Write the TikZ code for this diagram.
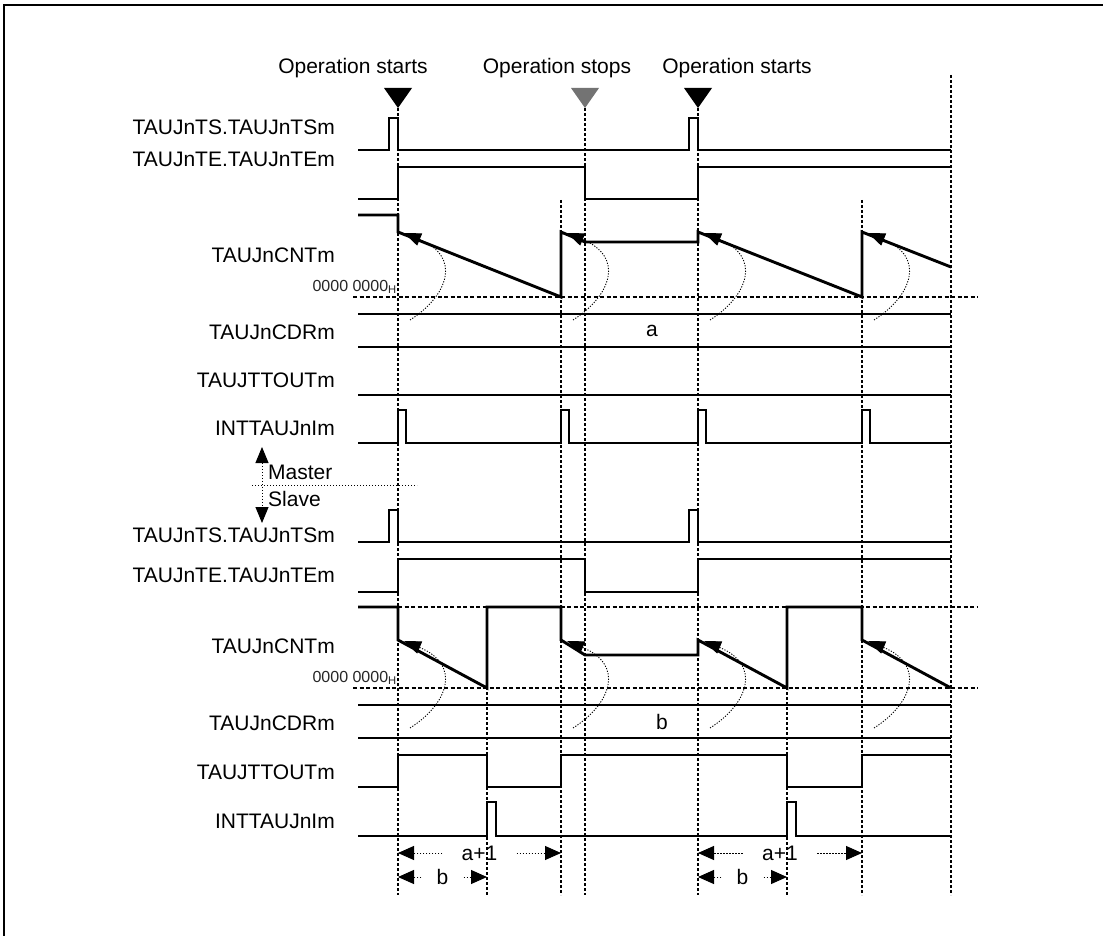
\documentclass[tikz,border=0pt]{standalone}
\usepackage{fontspec}
\setmainfont{Liberation Sans}
\usetikzlibrary{arrows.meta}
\newcommand{\labsize}{\fontsize{21}{25}\selectfont}
\tikzset{
  sigline/.style  = {line width=2.9pt},
  tmark/.style    = {line width=1.3pt,dash pattern=on 3pt off 2pt},
  hmark/.style    = {line width=1.3pt,dash pattern=on 4pt off 2.5pt},
  cntarr/.style   = {-{Triangle[length=17pt,width=13pt]},line width=0.9pt,dash pattern=on 1.2pt off 1.5pt},
  dimarr/.style   = {-{Triangle[length=16pt,width=14pt]},line width=1pt,dash pattern=on 1.5pt off 1.5pt},
  rowlabel/.style = {anchor=east,inner sep=0pt,font=\labsize},
  txt/.style      = {inner sep=0pt,font=\labsize}
}
\newcommand{\cntarc}[2]{%
  \draw[cntarr] (#1+12,#2+88) .. controls (#1+50,#2+64) and (#1+64,#2+25) .. (#1+6,#2+1);
}
\newcommand{\optri}[2]{%
  \fill[#2] (#1-14,88) -- (#1+14,88) -- (#1,108) -- cycle;
}
\begin{document}
\begin{tikzpicture}[x=1pt,y=-1pt]
  \useasboundingbox (0,0) rectangle (1103,936);
  \draw[line width=2pt] (4,936) -- (4,5) -- (1103,5);
  \coordinate (t1) at (398,0);
  \coordinate (t2) at (487,0);
  \coordinate (t3) at (561,0);
  \coordinate (t5) at (698,0);
  \coordinate (t6) at (787,0);
  \coordinate (t7) at (862,0);
  \node[txt,anchor=base] (hdA) at (353,74) {Operation starts};
  \node[txt,anchor=base] (hdB) at (557,74) {Operation stops};
  \node[txt,anchor=base] (hdC) at (737,74) {Operation starts};
  \optri{398}{black}
  \optri{585}{black!55}
  \optri{698}{black}
  \draw[tmark] (398,108) -- (398,895);
  \draw[tmark] (561,200) -- (561,895);
  \draw[tmark] (585,108) -- (585,895);
  \draw[tmark] (698,108) -- (698,895);
  \draw[tmark] (862,200) -- (862,895);
  \draw[tmark] (951,75) -- (951,895);
  \draw[tmark] (487,607) -- (487,895);
  \draw[tmark] (787,607) -- (787,895);
  \draw[hmark] (353,297) -- (978,297);
  \draw[hmark] (353,688) -- (978,688);
  \draw[hmark] (398,607) -- (978,607);
  \node[rowlabel] (mTS) at (335,127) {TAUJnTS.TAUJnTSm};
  \node[rowlabel] (mTE) at (335,159) {TAUJnTE.TAUJnTEm};
  \node[rowlabel] (mCNT) at (335,255) {TAUJnCNTm};
  \node[rowlabel] (mCDR) at (335,332) {TAUJnCDRm};
  \node[rowlabel] (mOUT) at (335,380) {TAUJTTOUTm};
  \node[rowlabel] (mINT) at (335,428) {INTTAUJnIm};
  \node[rowlabel] (sTS) at (335,535) {TAUJnTS.TAUJnTSm};
  \node[rowlabel] (sTE) at (335,575) {TAUJnTE.TAUJnTEm};
  \node[rowlabel] (sCNT) at (335,646) {TAUJnCNTm};
  \node[rowlabel] (sCDR) at (335,723) {TAUJnCDRm};
  \node[rowlabel] (sOUT) at (335,772) {TAUJTTOUTm};
  \node[rowlabel] (sINT) at (335,821) {INTTAUJnIm};
  \node[anchor=east,inner sep=0pt,font=\fontsize{16}{19}\selectfont,black!85] (mZero) at (397,287) {0000 0000\textsubscript{H}};
  \node[anchor=east,inner sep=0pt,font=\fontsize{16}{19}\selectfont,black!85] (sZero) at (397,678) {0000 0000\textsubscript{H}};
  \draw[sigline] (358,150) -- (389,150) -- (389,118) -- (398,118) -- (398,150) -- (689,150) -- (689,118) -- (698,118) -- (698,150) -- (951,150);
  \draw[sigline] (358,199) -- (398,199) -- (398,167) -- (585,167) -- (585,199) -- (698,199) -- (698,167) -- (951,167);
  \draw[sigline] (358,215) -- (398,215) -- (398,232) -- (561,297) -- (561,232) -- (585,242) -- (698,242) -- (698,232) -- (862,297) -- (862,232) -- (951,267);
  \draw[sigline] (358,314) -- (951,314);
  \draw[sigline] (358,347) -- (951,347);
  \node[txt] (valA) at (652,331) {a};
  \draw[sigline] (358,395) -- (951,395);
  \draw[sigline] (358,443) -- (398,443) -- (398,410) -- (406,410) -- (406,443) -- (561,443) -- (561,410) -- (569,410) -- (569,443) -- (698,443) -- (698,410) -- (706,410) -- (706,443) -- (862,443) -- (862,410) -- (870,410) -- (870,443) -- (951,443);
  \cntarc{398}{232}
  \cntarc{561}{232}
  \cntarc{698}{232}
  \cntarc{862}{232}
  \draw[dotted,line width=1pt] (252,485) -- (417,485);
  \node[txt,anchor=west] (mst) at (268,472) {Master};
  \node[txt,anchor=west] (slv) at (268,499) {Slave};
  \coordinate (msTop) at (262,447);
  \coordinate (msBot) at (262,523);
  \draw[{Triangle[length=16pt,width=13pt]}-{Triangle[length=16pt,width=13pt]},line width=1pt,dash pattern=on 1.5pt off 1.5pt] (msTop) -- (msBot);
  \draw[sigline] (358,542) -- (389,542) -- (389,510) -- (398,510) -- (398,542) -- (689,542) -- (689,510) -- (698,510) -- (698,542) -- (951,542);
  \draw[sigline] (358,592) -- (398,592) -- (398,559) -- (585,559) -- (585,592) -- (698,592) -- (698,559) -- (951,559);
  \draw[sigline] (358,607) -- (398,607) -- (398,640) -- (487,688) -- (487,607) -- (561,607) -- (561,640) -- (585,655) -- (698,655) -- (698,640) -- (787,688) -- (787,607) -- (862,607) -- (862,640) -- (951,688);
  \draw[sigline] (358,705) -- (951,705);
  \draw[sigline] (358,738) -- (951,738);
  \node[txt] (valB) at (662,722) {b};
  \draw[sigline] (358,787) -- (398,787) -- (398,755) -- (487,755) -- (487,787) -- (561,787) -- (561,755) -- (787,755) -- (787,787) -- (862,787) -- (862,755) -- (951,755);
  \draw[sigline] (358,836) -- (487,836) -- (487,802) -- (496,802) -- (496,836) -- (787,836) -- (787,802) -- (796,802) -- (796,836) -- (951,836);
  \cntarc{398}{640}
  \cntarc{561}{640}
  \cntarc{698}{640}
  \cntarc{862}{640}
  \node[txt,minimum width=74pt] (apA) at (479.5,853) {a+1};
  \draw[dimarr] (apA.west) -- (apA.west -| t1);
  \draw[dimarr] (apA.east) -- (apA.east -| t3);
  \node[txt,minimum width=74pt] (apB) at (780,853) {a+1};
  \draw[dimarr] (apB.west) -- (apB.west -| t5);
  \draw[dimarr] (apB.east) -- (apB.east -| t7);
  \node[txt,minimum width=42pt] (bA) at (442.5,877) {b};
  \draw[dimarr] (bA.west) -- (bA.west -| t1);
  \draw[dimarr] (bA.east) -- (bA.east -| t2);
  \node[txt,minimum width=42pt] (bB) at (742.5,877) {b};
  \draw[dimarr] (bB.west) -- (bB.west -| t5);
  \draw[dimarr] (bB.east) -- (bB.east -| t6);
\end{tikzpicture}
\end{document}
